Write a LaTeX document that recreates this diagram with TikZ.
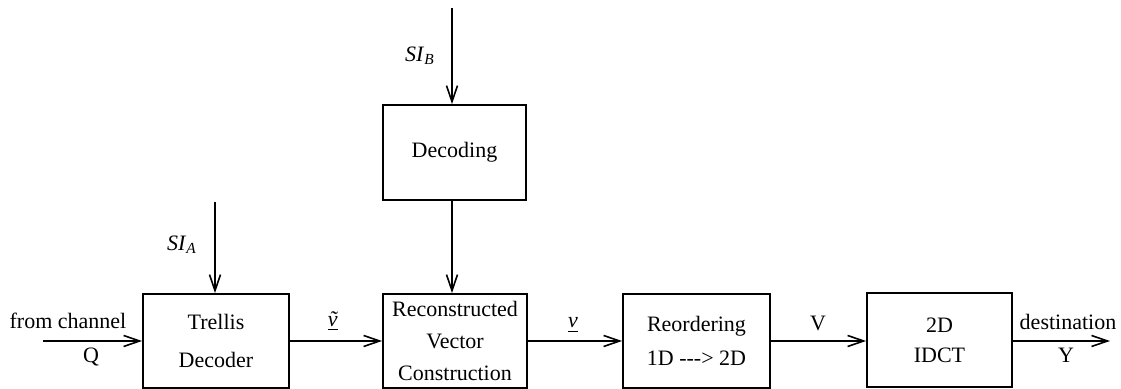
\documentclass[tikz,border=0pt]{standalone}
\usepackage{fontspec}
\setmainfont{Liberation Serif}
\usetikzlibrary{arrows.meta}
\begin{document}
\begin{tikzpicture}[x=0.5pt,y=-0.5pt,
  blk/.style={draw,line width=0.9pt,inner sep=0pt,align=center,minimum height=47pt},
  conn/.style={line width=0.9pt,-{Straight Barb[length=8pt,width=5.5pt,line width=0.8pt]}},
  lbl/.style={inner sep=0pt,font=\fontsize{11}{13}\selectfont},
  every node/.append style={font=\fontsize{11}{13}\selectfont}]
\useasboundingbox (0,0) rectangle (1121,389);
% blocks
\node[blk,minimum width=71.5pt,minimum height=47.5pt] (dec) at (454.5,152.5) {Decoding};
\node[blk,minimum width=73pt,font=\fontsize{11}{19}\selectfont] (tre) at (216,341) {Trellis\\Decoder};
\node[blk,minimum width=72pt,font=\fontsize{11}{16}\selectfont] (rec) at (455,341) {Reconstructed\\Vector\\Construction};
\node[blk,minimum width=73.5pt,font=\fontsize{11}{17}\selectfont] (reo) at (696.5,341) {Reordering\\1D -{}-{}-> 2D};
\node[blk,minimum width=72.5pt,font=\fontsize{11}{15}\selectfont] (idct) at (939.5,340) {2D\\IDCT};
% free ends
\coordinate (in) at (43,341);
\coordinate (out) at (1110,341);
\coordinate (sia) at (215,202);
\coordinate (sib) at (452,8);
% connectors
\draw[conn] (in) -- (tre.west |- in);
\draw[conn] (tre.east |- in) -- (rec.west |- in);
\draw[conn] (rec.east |- in) -- (reo.west |- in);
\draw[conn] (reo.east |- in) -- (idct.west |- in);
\draw[conn] (idct.east |- in) -- (out);
\draw[conn] (sia) -- (sia |- tre.north);
\draw[conn] (sib) -- (sib |- dec.north);
\draw[conn] (sib |- dec.south) -- (sib |- rec.north);
% labels
\node[lbl,anchor=base] (lfrom) at (68,329) {from channel};
\node[lbl] (lq) at (91,357) {Q};
\node[lbl] (lsia) at (182,245) {\textit{SI}\textsubscript{\textit{A}}};
\node[lbl] (lsib) at (420,56) {\textit{SI}\textsubscript{\textit{B}}};
\node[lbl] (lvt) at (333,321) {\underline{\textit{\~{v}}}};
\node[lbl] (lv) at (573,325) {\underline{\textit{v}}};
\node[lbl] (lV) at (818,323) {V};
\node[lbl,anchor=base] (ldest) at (1068,330) {destination};
\node[lbl] (ly) at (1066,355) {Y};
\end{tikzpicture}
\end{document}
